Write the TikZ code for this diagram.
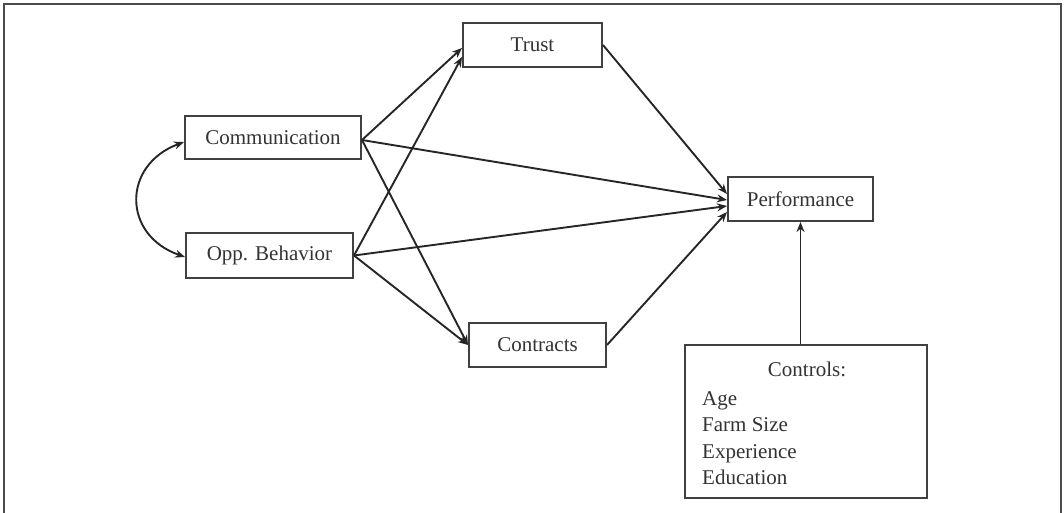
\documentclass[tikz,border=0pt]{standalone}
\usepackage{fontspec}
\setmainfont{Liberation Serif}
\usetikzlibrary{arrows.meta}
\begin{document}
\begin{tikzpicture}[x=1pt,y=-1pt,
  varbox/.style={draw=black!75, line width=2pt, fill=white, text=black!80,
    font=\fontsize{21}{24}\selectfont, inner sep=0pt},
  arr/.style={draw=black!85, line width=1.9pt, -{Stealth[length=10pt,width=8pt]}},
  txt/.style={text=black!80, font=\fontsize{21}{26.5}\selectfont, inner sep=0pt}]
\useasboundingbox (0,0) rectangle (1064,513);
\draw[black!70, line width=1.6pt] (4,513) -- (4,4) -- (1061,4) -- (1061,513);

\node[varbox, minimum width=176pt, minimum height=43pt] (comm) at (273,137.5) {Communication};
\node[varbox, minimum width=167pt, minimum height=45pt] (opp) at (269.5,255.5) {Opp. Behavior};
\node[varbox, minimum width=139pt, minimum height=44pt] (trust) at (532.5,45) {Trust};
\node[varbox, minimum width=137pt, minimum height=44pt] (contr) at (537.5,345) {Contracts};
\node[varbox, minimum width=145pt, minimum height=44pt] (perf) at (800.5,199) {Performance};
\node[varbox, minimum width=242pt, minimum height=153pt] (ctrl) at (806,421.5) {};
\node[txt] (ctrlhead) at (807,369) {Controls:};
\node[txt, anchor=north west, align=left] (ctrllist) at (702,391) {Age\\Farm Size\\Experience\\Education};

\draw[draw=black!85, line width=1.9pt, {Stealth[length=10pt,width=8pt]}-{Stealth[length=10pt,width=8pt]}]
  ([yshift=-4.5pt]comm.west) .. controls (122,165) and (122,235) .. ([yshift=-1.5pt]opp.west);

\draw[arr] ([yshift=-2.5pt]comm.east) -- ([yshift=-3pt]trust.west);
\draw[arr] ([yshift=-2.5pt]comm.east) -- ([yshift=-1pt]perf.west);
\draw[arr] ([yshift=-2.5pt]comm.east) -- (contr.west);
\draw[arr] (opp.east) -- ([yshift=-12pt]trust.west);
\draw[arr] (opp.east) -- ([yshift=-7pt]perf.west);
\draw[arr] (opp.east) -- (contr.west);
\draw[arr] (trust.east) -- ([yshift=5pt]perf.west);
\draw[arr] (contr.east) -- ([yshift=-13pt]perf.west);
\draw[arr] (ctrl.north -| perf.south) -- (perf.south);
\end{tikzpicture}
\end{document}
